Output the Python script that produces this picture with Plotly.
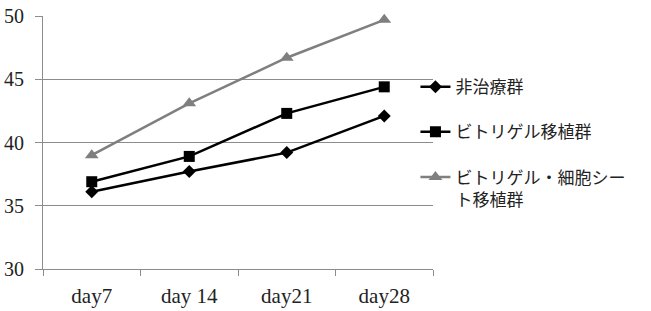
import plotly.graph_objects as go

days = ["day7", "day 14", "day21", "day28"]
series_names = ["非治療群", "ビトリゲル移植群", "ビトリゲル・細胞シー<br>ト移植群"]
untreated = [36.1, 37.7, 39.2, 42.1]
vitrigel = [36.9, 38.9, 42.3, 44.4]
vitrigel_sheet = [39.0, 43.1, 46.7, 49.7]
y_ticks = [30, 35, 40, 45, 50]

colors = ["#000000", "#000000", "#7f7f7f"]
symbols = ["diamond", "square", "triangle-up"]
sizes = [10, 11, 12]

fig = go.Figure()
for i, (name, vals) in enumerate(zip(series_names, [untreated, vitrigel, vitrigel_sheet])):
    fig.add_trace(go.Scatter(
        x=days, y=vals, name=name, mode="lines+markers",
        line=dict(color=colors[i], width=2.5),
        marker=dict(symbol=symbols[i], size=sizes[i], color=colors[i]),
        legendgroup=f"g{i}", cliponaxis=False,
    ))

fig.update_layout(
    width=651, height=311,
    margin=dict(l=43, r=218, t=16, b=42, autoexpand=False),
    paper_bgcolor="white", plot_bgcolor="white",
    showlegend=True,
    legend=dict(
        x=0.955, y=0.79, xanchor="left", yanchor="top",
        font=dict(family="Noto Sans CJK JP", size=17, color="#222"),
        traceorder="grouped", tracegroupgap=20, valign="top",
        itemwidth=30, bgcolor="rgba(0,0,0,0)",
    ),
)
fig.update_xaxes(
    type="category", range=[-0.5, 3.5], showline=True, linecolor="#8c8c8c", linewidth=1,
    ticks="outside", tickson="boundaries", ticklen=6, tickcolor="#8c8c8c",
    showgrid=False, tickfont=dict(family="Liberation Serif", size=21, color="#222"),
    ticklabelstandoff=8, automargin=False,
)
fig.update_yaxes(
    range=[30, 50], tickvals=y_ticks, showline=True, linecolor="#8c8c8c", linewidth=1,
    ticks="outside", ticklen=7, tickcolor="#8c8c8c",
    showgrid=True, gridcolor="#8c8c8c", gridwidth=1, zeroline=False,
    tickfont=dict(family="Liberation Serif", size=20, color="#222"),
    ticklabelstandoff=7, automargin=False,
)

fig.write_html("out.html")
